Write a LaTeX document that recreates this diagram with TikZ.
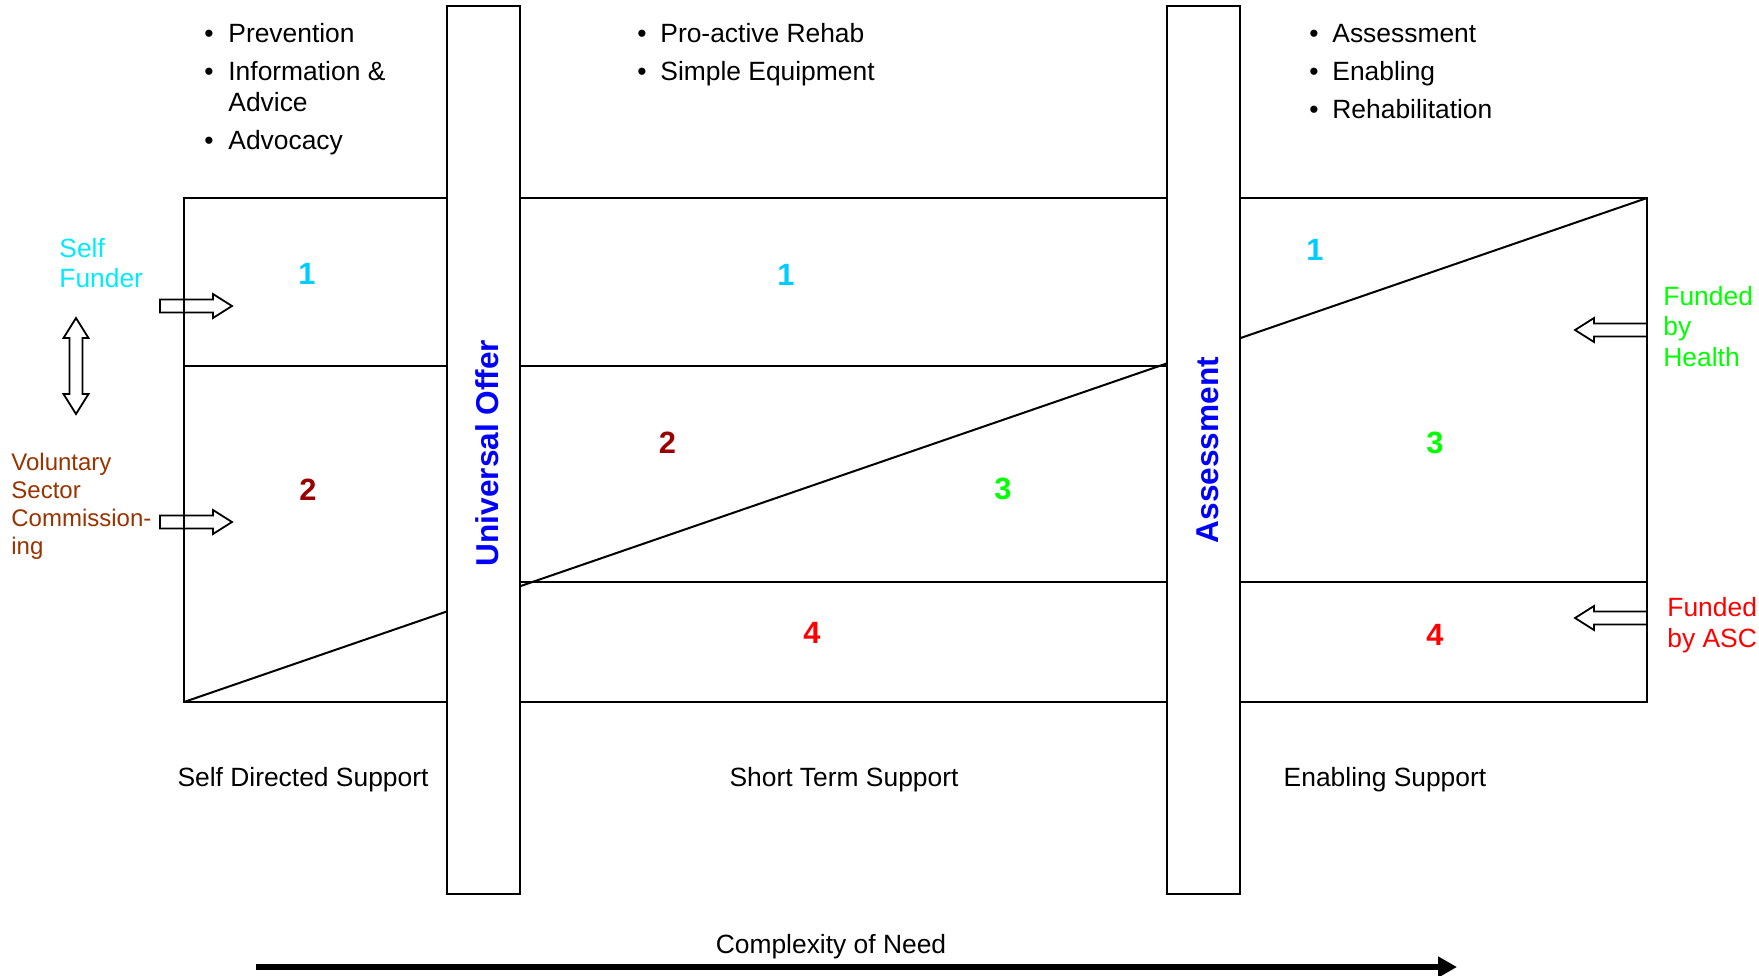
\documentclass[tikz,border=0pt]{standalone}
\usepackage{fontspec}
\setmainfont{Liberation Sans}
\usetikzlibrary{arrows.meta}
\definecolor{vblue}{RGB}{0,0,255}
\definecolor{sfcyan}{RGB}{0,235,255}
\definecolor{numcyan}{RGB}{0,204,255}
\definecolor{volbrown}{RGB}{153,51,0}
\definecolor{numred}{RGB}{153,0,0}
\definecolor{hgreen}{RGB}{0,255,0}
\definecolor{ascred}{RGB}{255,0,0}
\begin{document}
\begin{tikzpicture}[x=0.5pt,y=-0.5pt,
  ln/.style={line width=1pt},
  barbox/.style={draw, line width=1.1pt, fill=white, minimum width=36.5pt, minimum height=444pt, inner sep=0pt},
  bartext/.style={rotate=90, text=vblue, inner sep=0pt, font=\fontsize{15.8}{18}\selectfont\bfseries},
  num/.style={font=\fontsize{15.4}{18}\selectfont\bfseries, inner sep=0pt},
  txt/.style={font=\fontsize{13.2}{15}\selectfont, inner sep=0pt, anchor=base west},
  bul/.style={font=\fontsize{13.2}{15}\selectfont, inner sep=0pt, anchor=base},
  ctxt/.style={font=\fontsize{13.2}{15}\selectfont, inner sep=0pt, anchor=base},
  vol/.style={font=\fontsize{12}{14}\selectfont, inner sep=0pt, anchor=base west, text=volbrown},
  blk/.style={draw, line width=0.9pt, line join=miter},
  rarrow/.pic={\draw[blk] (0,-6.5) -- (53,-6.5) -- (53,-12) -- (72,0) -- (53,12) -- (53,6.5) -- (0,6.5) -- cycle;},
  vdarrow/.pic={\draw[blk] (0,-48) -- (12.5,-28) -- (6.5,-28) -- (6.5,28) -- (12.5,28) -- (0,48) -- (-12.5,28) -- (-6.5,28) -- (-6.5,-28) -- (-12.5,-28) -- cycle;}
]
\useasboundingbox (0,0) rectangle (1759,975);

% main frame
\coordinate (TL) at (184,198);
\coordinate (TR) at (1647,198);
\coordinate (BL) at (184,702);
\coordinate (BR) at (1647,702);
\coordinate (r1a) at (184,366);
\coordinate (r1b) at (1167,366);
\coordinate (r2a) at (520,582);
\coordinate (r2b) at (1647,582);
\draw[ln] (TL) rectangle (BR);
\draw[ln] (r1a) -- (r1b);
\draw[ln] (r2a) -- (r2b);
\draw[ln] (BL) -- (TR);

% bars
\node[barbox] (uobar) at (483.5,450) {};
\node[barbox] (asbar) at (1203.5,450) {};
\node[bartext] (uotext) at (487.5,453) {Universal Offer};
\node[bartext] (astext) at (1207.5,450) {Assessment};

% numbers
\node[num, text=numcyan] (n1a) at (307,274) {1};
\node[num, text=numcyan] (n1b) at (786,275) {1};
\node[num, text=numcyan] (n1c) at (1315,250) {1};
\node[num, text=numred] (n2a) at (308,490) {2};
\node[num, text=numred] (n2b) at (667.5,443) {2};
\node[num, text=hgreen] (n3a) at (1003,489) {3};
\node[num, text=hgreen] (n3b) at (1435,443) {3};
\node[num, text=ascred] (n4a) at (812,633) {4};
\node[num, text=ascred] (n4b) at (1435,635) {4};

% bullet lists
\node[bul] (b1) at (209,42.7) {•};
\node[txt] (t1) at (228,42.7) {Prevention};
\node[bul] (b2) at (209,80.4) {•};
\node[txt] (t2) at (228,80.4) {Information \&};
\node[txt] (t3) at (228,111.5) {Advice};
\node[bul] (b4) at (209,149) {•};
\node[txt] (t4) at (228,149) {Advocacy};

\node[bul] (b5) at (642,42.7) {•};
\node[txt] (t5) at (660,42.7) {Pro-active Rehab};
\node[bul] (b6) at (642,80.4) {•};
\node[txt] (t6) at (660,80.4) {Simple Equipment};

\node[bul] (b7) at (1314,42.7) {•};
\node[txt] (t7) at (1332,42.7) {Assessment};
\node[bul] (b8) at (1314,80.4) {•};
\node[txt] (t8) at (1332,80.4) {Enabling};
\node[bul] (b9) at (1314,118) {•};
\node[txt] (t9) at (1332,118) {Rehabilitation};

% side labels
\node[txt, text=sfcyan] (sf1) at (59,257) {Self};
\node[txt, text=sfcyan] (sf2) at (59,287) {Funder};
\node[vol] (v1) at (11,470) {Voluntary};
\node[vol] (v2) at (11,498) {Sector};
\node[vol] (v3) at (11,526) {Commission-};
\node[vol] (v4) at (11,554) {ing};
\node[txt, text=hgreen] (h1) at (1663,305) {Funded};
\node[txt, text=hgreen] (h2) at (1663,335.5) {by};
\node[txt, text=hgreen] (h3) at (1663,366) {Health};
\node[txt, text=ascred] (a1) at (1667,616) {Funded};
\node[txt, text=ascred] (a2) at (1667,647) {by ASC};

% block arrows
\pic (sfarrow) at (160,306) {rarrow};
\pic (volarrow) at (160,522) {rarrow};
\pic[rotate=180] (harrow) at (1647,330) {rarrow};
\pic[rotate=180] (ascarrow) at (1647,618) {rarrow};
\pic (dblarrow) at (76,366) {vdarrow};

% bottom labels
\node[ctxt] (sds) at (303,786) {Self Directed Support};
\node[ctxt] (sts) at (844,786) {Short Term Support};
\node[ctxt] (ens) at (1385,786) {Enabling Support};
\node[ctxt] (con) at (831,953) {Complexity of Need};

\coordinate (ca) at (256,967);
\coordinate (cb) at (1457,967);
\draw[line width=2.8pt, -{Triangle[length=9.5pt,width=10pt]}] (ca) -- (cb);
\end{tikzpicture}
\end{document}
